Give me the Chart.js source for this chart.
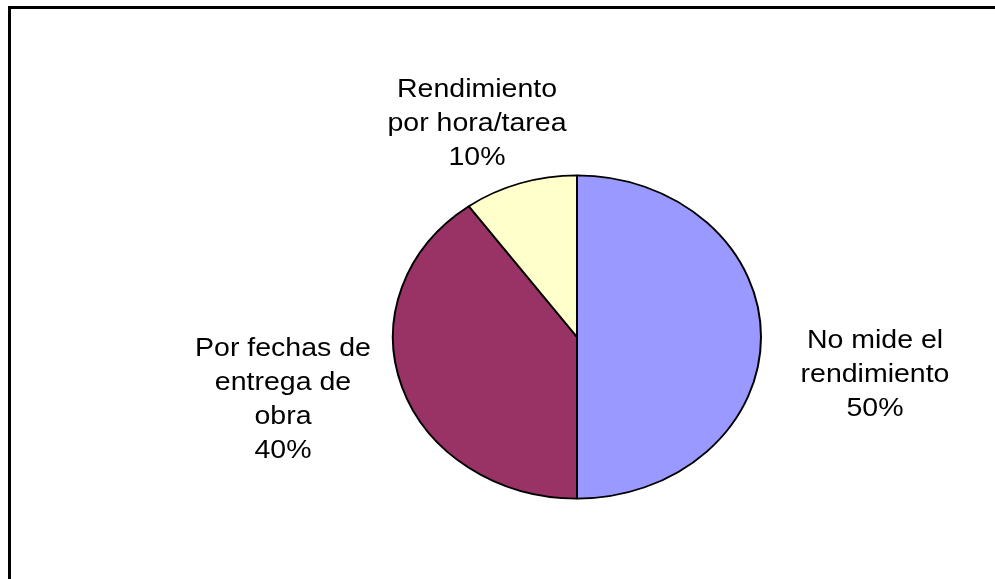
<!DOCTYPE html>
<html>
<head>
<meta charset="utf-8">
<script src="https://cdn.jsdelivr.net/npm/chart.js@4/dist/chart.umd.min.js"></script>
<style>
  html, body { margin: 0; padding: 0; background: #fff; overflow: hidden; }
  #frame { position: absolute; left: 8px; top: 6px; width: 1100px; height: 700px; border: 3px solid #000; }
  #pie { position: absolute; left: 0; top: 0; }
</style>
</head>
<body>
<div id="frame"></div>
<canvas id="pie" width="995" height="579"></canvas>
<script>
// categories (one entry per line of the label) and their shares in %
var categories = [
  ['No mide el', 'rendimiento'],
  ['Por fechas de', 'entrega de', 'obra'],
  ['Rendimiento', 'por hora/tarea']
];
var values = [50, 40, 10];
var colors = ['#9999FF', '#993366', '#FFFFCC'];

// where each label block sits, relative to the pie centre (px)
var labelOffsets = [[298, 38], [-294, 63], [-100, -213]];
var squash = 162.5 / 185; // pie is drawn as a flattened ellipse

// flatten the pie vertically around its centre
var ellipse = {
  id: 'ellipse',
  beforeDatasetsDraw: function (chart) {
    var arc = chart.getDatasetMeta(0).data[0];
    var ctx = chart.ctx;
    ctx.save();
    ctx.translate(arc.x, arc.y);
    ctx.scale(1, squash);
    ctx.translate(-arc.x, -arc.y);
  },
  afterDatasetsDraw: function (chart) {
    chart.ctx.restore();
  }
};

// category name + percentage next to each slice
var sliceLabels = {
  id: 'sliceLabels',
  afterDraw: function (chart) {
    var ctx = chart.ctx;
    var meta = chart.getDatasetMeta(0);
    var lineH = 34;
    meta.data.forEach(function (arc, i) {
      var lines = categories[i].concat([values[i] + '%']);
      var cx = arc.x + labelOffsets[i][0];
      var cy = arc.y + labelOffsets[i][1];
      var y0 = cy - (lines.length - 1) * lineH / 2;
      ctx.save();
      ctx.fillStyle = '#000';
      ctx.font = '25px "Liberation Sans", Arial, sans-serif';
      ctx.textAlign = 'center';
      ctx.textBaseline = 'middle';
      lines.forEach(function (t, k) {
        ctx.save();
        ctx.translate(cx, y0 + k * lineH);
        ctx.scale(1.14, 1);
        ctx.fillText(t, 0, 0);
        ctx.restore();
      });
      ctx.restore();
    });
  }
};

new Chart(document.getElementById('pie'), {
  type: 'pie',
  data: {
    labels: categories,
    datasets: [{
      data: values,
      backgroundColor: colors,
      borderColor: '#000',
      borderWidth: 2
    }]
  },
  options: {
    responsive: false,
    animation: false,
    layout: { padding: { left: 392, right: 233, top: 152, bottom: 57 } },
    plugins: {
      legend: { display: false },
      tooltip: { enabled: false }
    }
  },
  plugins: [ellipse, sliceLabels]
});
</script>
</body>
</html>
